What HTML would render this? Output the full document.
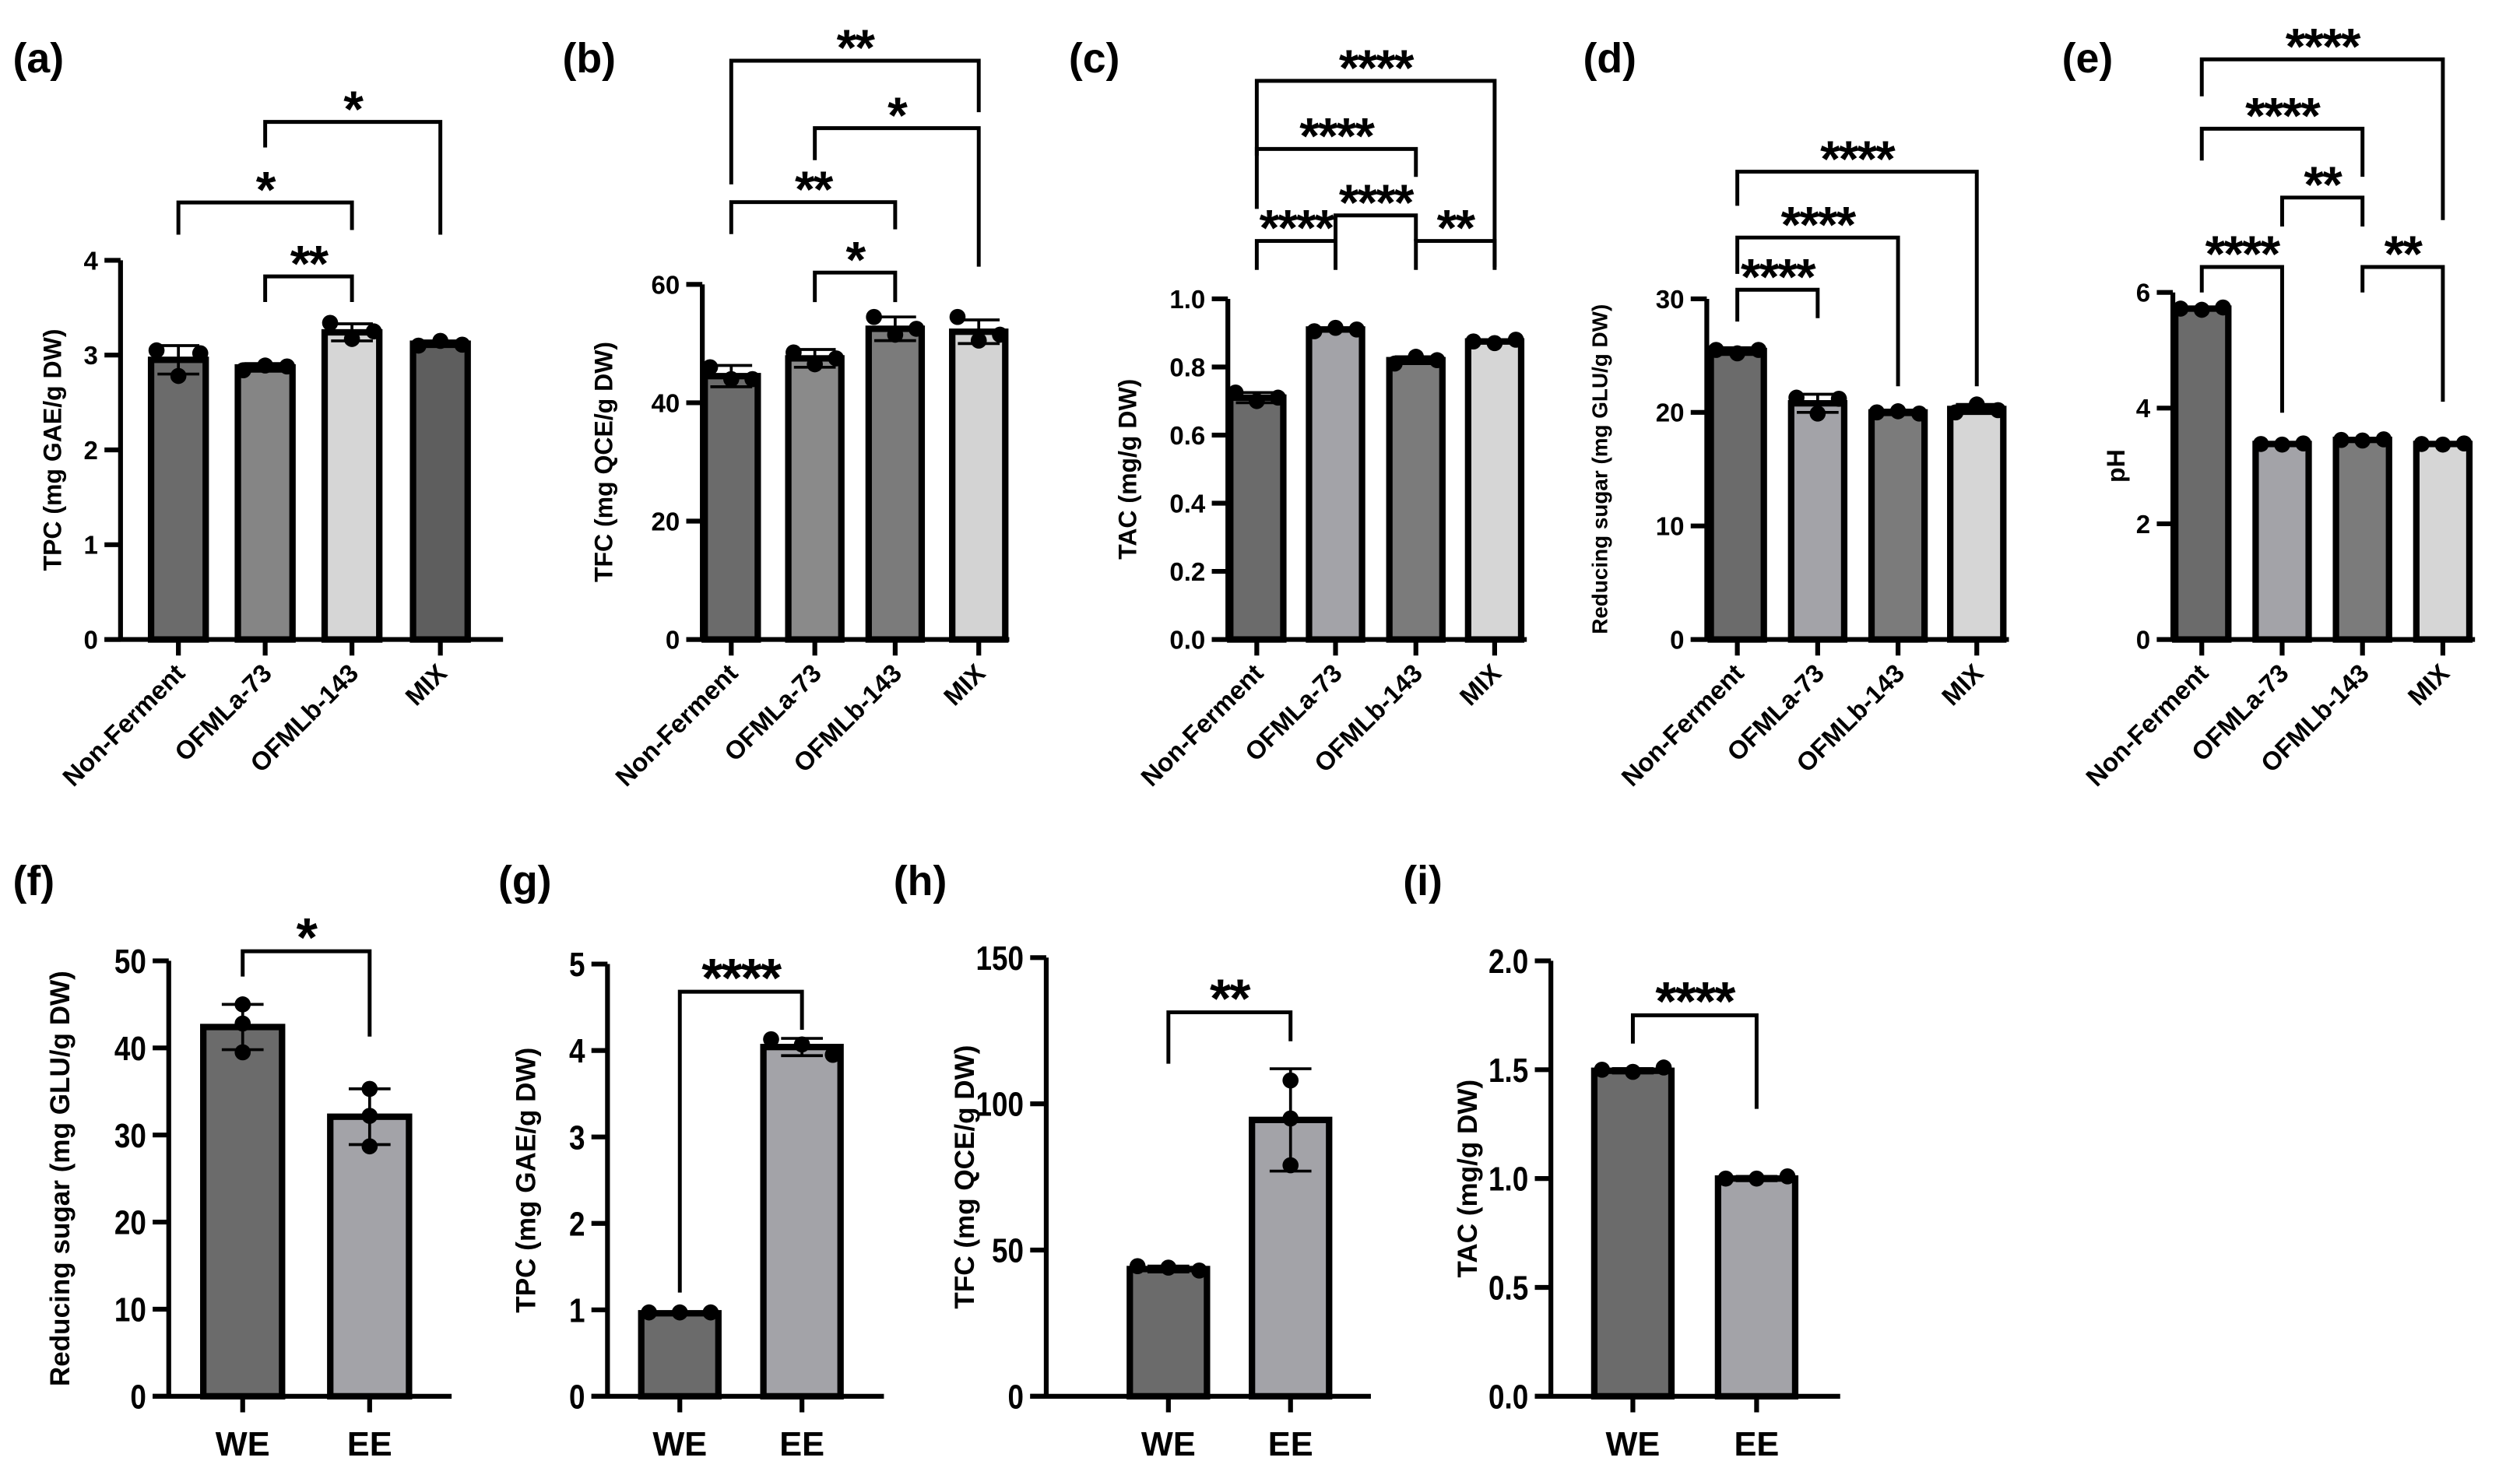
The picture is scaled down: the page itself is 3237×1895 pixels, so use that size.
<!DOCTYPE html>
<html><head><meta charset="utf-8"><style>
html,body{margin:0;padding:0;background:#fff;}
svg{display:block;font-family:"Liberation Sans",Arial,sans-serif;font-weight:bold;}
</style></head><body>
<svg id="fig" width="3237" height="1895" viewBox="0 0 1568 918" preserveAspectRatio="none" xmlns="http://www.w3.org/2000/svg"></svg>
<script>
// ---- data ----
const catsTop = ["Non-Ferment","OFMLa-73","OFMLb-143","MIX"];
const catsBot = ["WE","EE"];
const meanA = [2.95,2.87,3.24,3.12];   const sdA = [0.15,0.04,0.09,0.03];
const ptsA = [[3.05,2.78,3.02],[2.84,2.89,2.88],[3.34,3.17,3.25],[3.10,3.15,3.11]];
const meanB = [44.5,47.5,52.5,52];     const sdB = [1.8,1.5,2,2];
const ptsB = [[46,44,44],[48.5,46.5,47.5],[54.5,51.5,52.5],[54.5,50.5,51.5]];
const meanC = [0.71,0.91,0.82,0.875];  const sdC = [0.015,0.005,0.01,0.005];
const ptsC = [[0.725,0.70,0.71],[0.905,0.915,0.91],[0.81,0.83,0.82],[0.875,0.87,0.88]];
const meanD = [25.4,20.8,20,20.3];     const sdD = [0.3,0.8,0.2,0.4];
const ptsD = [[25.5,25.2,25.5],[21.3,19.9,21.2],[20,20.1,19.9],[20,20.7,20.2]];
const meanE = [5.72,3.38,3.45,3.38];   const sdE = [0.02,0.02,0.02,0.02];
const ptsE = [[5.72,5.70,5.74],[3.38,3.37,3.39],[3.45,3.44,3.46],[3.38,3.37,3.39]];
const meanF = [42.4,32.1]; const sdF = [2.6,3.2]; const ptsF = [[45,42.8,39.5],[35.3,32.2,28.7]];
const meanG = [0.96,4.04]; const sdG = [0.01,0.1]; const ptsG = [[0.97,0.97,0.97],[4.13,4.07,3.95]];
const meanH = [43.5,94.5]; const sdH = [1,17.5]; const ptsH = [[44.5,44,43],[108,95,79]];
const meanI = [1.495,1.0]; const sdI = [0.01,0.01]; const ptsI = [[1.5,1.49,1.51],[1.0,1.0,1.01]];
// brackets: [i, j, level, leftLegEnd, rightLegEnd, label]
const brA = [[0,2,4.61,4.27,4.32,"*"],[1,2,3.83,3.56,3.56,"**"],[1,3,5.46,5.19,4.27,"*"]];
const brB = [[0,3,97.8,76.9,89.1,"**"],[1,3,86.4,81,63,"*"],[0,2,73.9,68.5,69.3,"**"],[1,2,62,57,57,"*"]];
const brC = [[0,1,1.17,1.085,1.085,"****"],[0,3,1.64,1.42,1.094,"****"],[0,2,1.44,1.264,1.358,"****"],[1,2,1.245,1.17,1.17,"****"],[2,3,1.17,1.085,1.085,"**"]];
const brD = [[0,1,30.8,28,28.3,"****"],[0,2,35.4,32.2,22.3,"****"],[0,3,41.2,38.2,22.3,"****"]];
const brE = [[0,1,6.44,6.0,3.92,"****"],[0,2,8.83,8.28,8.0,"****"],[0,3,10.03,9.39,7.25,"****"],[1,2,7.64,7.14,7.14,"**"],[2,3,6.44,6.0,4.11,"**"]];
const brF = [[0,1,51.1,48.2,41.3,"*"]];
const brG = [[0,1,4.68,1.2,4.24,"****"]];
const brH = [[0,1,131.3,113.7,121.4,"**"]];
const brI = [[0,1,1.75,1.62,1.32,"****"]];
const ticksA=[0,1,2,3,4], ticksB=[0,20,40,60], ticksC=[0,0.2,0.4,0.6,0.8,1.0], ticksD=[0,10,20,30], ticksE=[0,2,4,6];
const ticksF=[0,10,20,30,40,50], ticksG=[0,1,2,3,4,5], ticksH=[0,50,100,150], ticksI=[0,0.5,1.0,1.5,2.0];

// ---- layout ----
const panels = [
 {id:"a",lab:[8,45],ax:75,x0:65,x1:313,y0:398,yTop:162,vTop:4,dec:0,ticks:ticksA,cats:catsTop,xs:[111,165,219,274],bw:34,mean:meanA,sd:sdA,pts:ptsA,br:brA,title:"TPC (mg GAE/g DW)",tx:38,cols:["#6b6b6b","#858585","#d6d6d6","#5e5e5e"],top:true},
 {id:"b",lab:[350,45],ax:437,x0:427,x1:628,y0:398,yTop:177,vTop:60,dec:0,ticks:ticksB,cats:catsTop,xs:[455,507,557,609],bw:33,mean:meanB,sd:sdB,pts:ptsB,br:brB,title:"TFC (mg QCE/g DW)",tx:381,cols:["#6b6b6b","#8a8a8a","#7b7b7b","#d3d3d3"],top:true},
 {id:"c",lab:[665,45],ax:764,x0:754,x1:950,y0:398,yTop:186,vTop:1.0,dec:1,ticks:ticksC,cats:catsTop,xs:[782,831,881,930],bw:33,mean:meanC,sd:sdC,pts:ptsC,br:brC,title:"TAC (mg/g DW)",tx:707,cols:["#6b6b6b","#a3a3a8","#7b7b7b","#d6d6d6"],top:true},
 {id:"d",lab:[985,45],ax:1062,x0:1052,x1:1250,y0:398,yTop:186,vTop:30,dec:0,ticks:ticksD,cats:catsTop,xs:[1081,1131,1181,1230],bw:33,mean:meanD,sd:sdD,pts:ptsD,br:brD,title:"Reducing sugar (mg GLU/g DW)",tx:1000,tfs:13.5,cols:["#6b6b6b","#a3a3a8","#7b7b7b","#d6d6d6"],top:true},
 {id:"e",lab:[1283,45],ax:1352,x0:1342,x1:1540,y0:398,yTop:182,vTop:6,dec:0,ticks:ticksE,cats:catsTop,xs:[1370,1420,1470,1520],bw:33,mean:meanE,sd:sdE,pts:ptsE,br:brE,title:"pH",tx:1322,cols:["#6b6b6b","#a3a3a8","#7b7b7b","#d6d6d6"],top:true},
 {id:"f",lab:[8,557],ax:105,x0:95,x1:281,y0:869,yTop:598,vTop:50,dec:0,ticks:ticksF,cats:catsBot,xs:[151,230],bw:49,mean:meanF,sd:sdF,pts:ptsF,br:brF,title:"Reducing sugar (mg GLU/g DW)",tx:43,tfs:17,cols:["#6b6b6b","#a3a3a8"],top:false},
 {id:"g",lab:[310,557],ax:378,x0:368,x1:550,y0:869,yTop:600,vTop:5,dec:0,ticks:ticksG,cats:catsBot,xs:[423,499],bw:48,mean:meanG,sd:sdG,pts:ptsG,br:brG,title:"TPC (mg GAE/g DW)",tx:333,tfs:17,cols:["#6b6b6b","#a3a3a8"],top:false},
 {id:"h",lab:[556,557],ax:651,x0:641,x1:853,y0:869,yTop:596,vTop:150,dec:0,ticks:ticksH,cats:catsBot,xs:[727,803],bw:48,mean:meanH,sd:sdH,pts:ptsH,br:brH,title:"TFC (mg QCE/g DW)",tx:606,tfs:17,cols:["#6b6b6b","#a3a3a8"],top:false},
 {id:"i",lab:[873,557],ax:965,x0:955,x1:1145,y0:869,yTop:598,vTop:2.0,dec:1,ticks:ticksI,cats:catsBot,xs:[1016,1093],bw:48,mean:meanI,sd:sdI,pts:ptsI,br:brI,title:"TAC (mg/g DW)",tx:919,tfs:17,cols:["#6b6b6b","#a3a3a8"],top:false}
];

const NS="http://www.w3.org/2000/svg";
const svg=document.getElementById("fig");
function mk(tag,attrs,parent){const e=document.createElementNS(NS,tag);for(const k in attrs)e.setAttribute(k,attrs[k]);(parent||svg).appendChild(e);return e;}

panels.forEach(p=>{
  const g=mk("g",{});
  
  
  const Y=v=>p.y0-(v/p.vTop)*(p.y0-p.yTop);
  const lab=mk("text",{x:p.lab[0],y:p.lab[1],"font-size":26},g); lab.textContent="("+p.id+")";
  
  
  const big=!p.top; const sw=3;
  // bars
  p.mean.forEach((m,i)=>{
    const r=mk("rect",{x:p.xs[i]-p.bw/2,y:Y(m),width:p.bw,height:p.y0-Y(m),fill:p.cols[i],stroke:"#000","stroke-width":4},g);
    
    
  });
  // error bars and points
  p.mean.forEach((m,i)=>{
    const x=p.xs[i], c=13;
    const e=mk("path",{d:`M${x},${Y(m-p.sd[i])}V${Y(m+p.sd[i])}M${x-c},${Y(m+p.sd[i])}h${2*c}M${x-c},${Y(m-p.sd[i])}h${2*c}`,stroke:"#000","stroke-width":1.8,fill:"none"},g);
    
    
    const n=p.pts[i].length;
    const spread = p.top || p.sd[i] < p.vTop*0.03;
    p.pts[i].forEach((v,k)=>{
      const off=spread?(k-(n-1)/2)*(p.bw*0.4):0;
      const d=mk("circle",{cx:x+off,cy:Y(v),r:big?5:5,fill:"#000"},g);
      
      
    });
  });
  // axes
  const ax=mk("path",{d:`M${p.ax},${p.y0}V${p.yTop}M${p.x0},${p.y0}H${p.x1}`,stroke:"#000","stroke-width":sw,fill:"none"},g);
  
  
  p.ticks.forEach(t=>{
    mk("line",{x1:p.ax-10,x2:p.ax,y1:Y(t),y2:Y(t),stroke:"#000","stroke-width":sw},g);
    const fs=big?21:16;
    const tl=mk("text",{x:p.ax-14,y:Y(t)+fs*0.36,"text-anchor":"end","font-size":fs,transform:big?`translate(${p.ax-14},${Y(t)}) scale(0.85,1) translate(${-(p.ax-14)},${-Y(t)})`:""},g);
    tl.textContent=t.toFixed(p.dec);
    
    
  });
  p.cats.forEach((c,i)=>{
    const x=p.xs[i];
    mk("line",{x1:x,x2:x,y1:p.y0,y2:p.y0+10,stroke:"#000","stroke-width":sw},g);
    let t;
    if(p.top){
      t=mk("text",{x:x+5,y:p.y0+22,"text-anchor":"end","font-size":16,transform:`rotate(-45 ${x+5} ${p.y0+22})`},g);
    } else {
      t=mk("text",{x:x,y:p.y0+37,"text-anchor":"middle","font-size":21},g);
    }
    t.textContent=c;
    
    
  });
  // y title
  const my=(p.y0+p.yTop)/2;
  const tt=mk("text",{x:p.tx,y:my,"text-anchor":"middle","font-size":p.tfs||15.5,transform:`rotate(-90 ${p.tx} ${my})`},g);
  tt.textContent=p.title;
  
  
  // brackets
  p.br.forEach(b=>{
    const xa=p.xs[b[0]], xb=p.xs[b[1]];
    const bp=mk("path",{d:`M${xa},${Y(b[3])}V${Y(b[2])}H${xb}V${Y(b[4])}`,stroke:"#000","stroke-width":2.4,fill:"none"},g);
    
    
    const st=mk("text",{x:(xa+xb)/2,y:Y(b[2])+3,"text-anchor":"middle","font-size":big?34:32,"letter-spacing":"-1"},g);
    st.textContent=b[5];
    
    
  });
});
</script>
</body></html>
